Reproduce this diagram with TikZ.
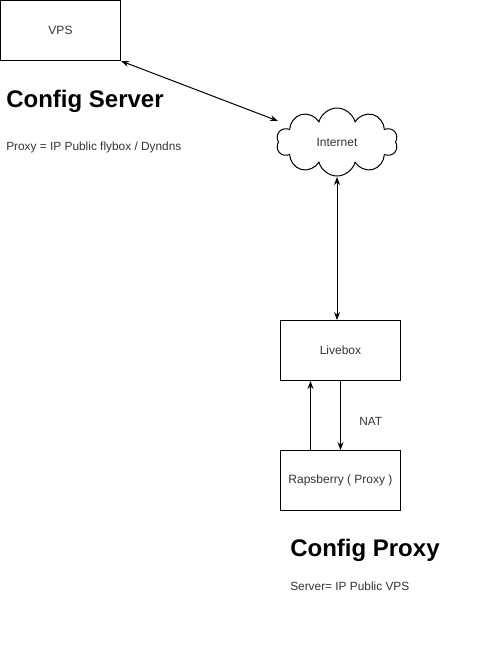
\documentclass[tikz,border=0pt]{standalone}
\usepackage{fontspec}
\setmainfont{Liberation Sans}
\usetikzlibrary{shapes.symbols,arrows.meta}
\begin{document}
\begin{tikzpicture}[x=0.75pt,y=-0.75pt,
  box/.style={draw,line width=0.75pt,minimum width=90pt,minimum height=45pt,inner sep=0pt,font=\fontsize{9pt}{11pt}\selectfont,text=black!80},
  conn/.style={line width=0.75pt,{Stealth[length=6pt,width=4.5pt]}-{Stealth[length=6pt,width=4.5pt]}},
  uconn/.style={line width=0.75pt,-{Stealth[length=6pt,width=4.5pt]}},
  heading/.style={anchor=west,font=\bfseries\fontsize{18pt}{21pt}\selectfont,inner sep=0pt},
  small/.style={anchor=west,font=\fontsize{8.9pt}{11pt}\selectfont,inner sep=0pt,text=black!80}]
\useasboundingbox (0,0) rectangle (476,651);
\node[box] (vps) at (60.5,30.5) {VPS};
\node[draw,cloud,cloud puffs=10,aspect=1.8,line width=0.75pt,minimum width=91pt,minimum height=51pt,inner sep=0pt,font=\fontsize{9pt}{11pt}\selectfont,text=black!80] (inet) at (337,142) {Internet};
\node[box] (live) at (340.5,350.5) {Livebox};
\node[box] (rasp) at (340.5,480.5) {Rapsberry ( Proxy )};
\coordinate (ie) at (278,121);
\coordinate (ib) at (337,177);
\draw[conn] (vps.south east) -- (ie);
\draw[conn] (ib) -- (live.north -| ib);
\draw[uconn] ([xshift=-22.5pt]rasp.north) -- ([xshift=-22.5pt]live.south);
\draw[uconn] (live.south) -- (rasp.north);
\node[small] (nat) at (359,421) {NAT};
\node[heading] (cs) at (6,101) {Config Server};
\node[small] (cst) at (6,147) {Proxy = IP Public flybox / Dyndns};
\node[heading] (cp) at (290,550) {Config Proxy};
\node[small] (cpt) at (290,586) {Server= IP Public VPS};
\end{tikzpicture}
\end{document}
